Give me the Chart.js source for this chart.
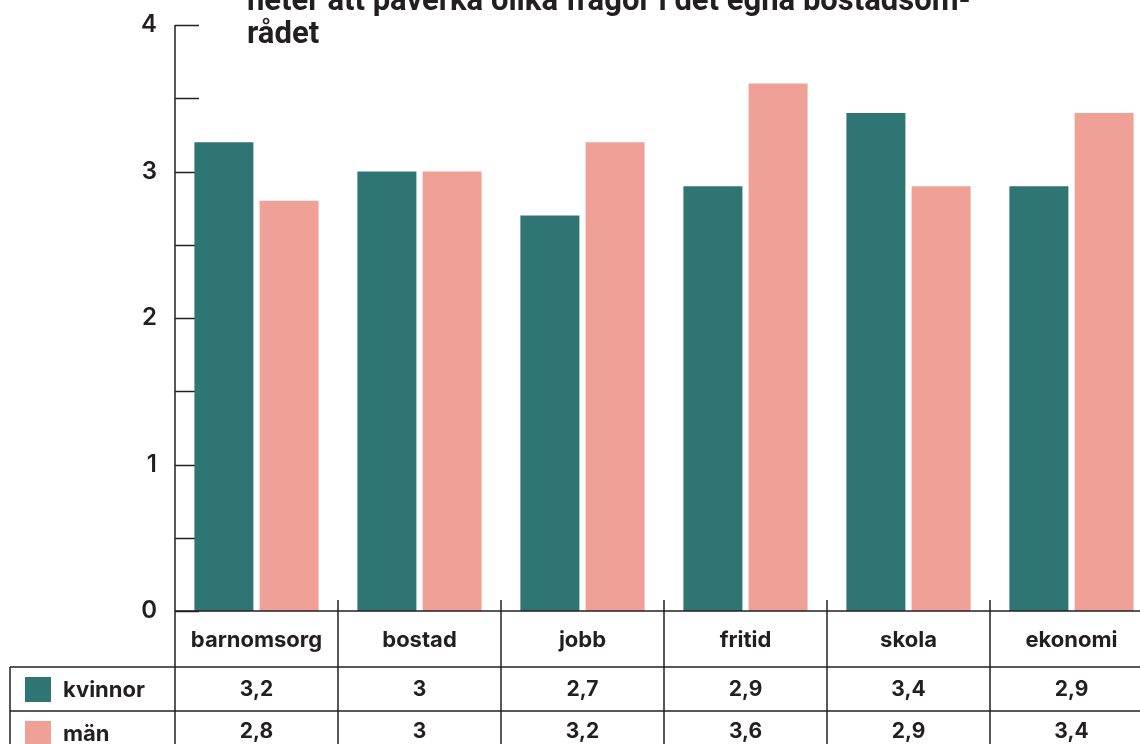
<!DOCTYPE html>
<html>
<head>
<meta charset="utf-8">
<script src="https://cdn.jsdelivr.net/npm/chart.js@4"></script>
<style>
  html, body { margin: 0; padding: 0; background: #fff; overflow: hidden; }
  #wrap { width: 1160px; height: 744px; }
</style>
</head>
<body>
<div id="wrap"><canvas id="chart" width="1160" height="744"></canvas></div>
<script>
const categories = ['barnomsorg', 'bostad', 'jobb', 'fritid', 'skola', 'ekonomi'];
const kvinnor = [3.2, 3, 2.7, 2.9, 3.4, 2.9];
const man = [2.8, 3, 3.2, 3.6, 2.9, 3.4];
const seriesNames = ['kvinnor', 'män'];
const yTicks = [0, 0.5, 1, 1.5, 2, 2.5, 3, 3.5, 4];
const titleLines = ['heter att påverka olika frågor i det egna bostadsom-', 'rådet'];

const COLORS = { teal: '#2F7574', pink: '#F0A197', ink: '#231F20' };
const FONT = "Inter, 'Noto Sans', sans-serif";

const fmt = v => String(v).replace('.', ',');

// table + ticks + title drawn round the plot
const tablePlugin = {
    id: 'dataTable',
    beforeDatasetsDraw(chart) {
        const { ctx, scales: { y }, chartArea } = chart;
        ctx.save();
        ctx.strokeStyle = COLORS.ink;
        ctx.lineWidth = 1.5;
        yTicks.forEach(v => {
            const py = Math.round(y.getPixelForValue(v)) + 0.5;
            ctx.beginPath();
            ctx.moveTo(chartArea.left, py);
            ctx.lineTo(chartArea.left + 24, py);
            ctx.stroke();
        });
        ctx.restore();
    },
    afterDraw(chart) {
        const { ctx, scales: { x }, chartArea } = chart;
        const left = chartArea.left, bottom = chartArea.bottom;
        const catW = (x.right - x.left) / categories.length;
        const rowH = [56, 44, 44];
        const r1 = bottom + rowH[0], r2 = r1 + rowH[1], r3 = r2 + rowH[2];
        const tableLeft = 10;

        ctx.save();
        ctx.strokeStyle = COLORS.ink;
        ctx.lineWidth = 1.5;
        const line = (x1, y1, x2, y2) => { ctx.beginPath(); ctx.moveTo(x1, y1); ctx.lineTo(x2, y2); ctx.stroke(); };

        // axis line + table grid
        line(left, chartArea.top, left, r3);
        line(left, bottom, chart.width, bottom);
        line(tableLeft, r1, chart.width, r1);
        line(tableLeft, r2, chart.width, r2);
        line(tableLeft, r1, tableLeft, r3);
        for (let i = 1; i <= categories.length; i++) {
            const bx = x.getPixelForValue(i) - catW / 2;
            line(bx, bottom - 11, bx, r3);
        }

        ctx.fillStyle = COLORS.ink;
        ctx.textBaseline = 'middle';
        ctx.textAlign = 'center';
        ctx.font = `bold 22px ${FONT}`;
        categories.forEach((c, i) => {
            ctx.fillText(c, x.getPixelForValue(i), bottom + rowH[0] / 2 + 1);
        });
        ctx.font = `bold 21px ${FONT}`;
        categories.forEach((c, i) => {
            const cx = x.getPixelForValue(i);
            ctx.fillText(fmt(kvinnor[i]), cx, r1 + rowH[1] / 2 + 1);
            ctx.fillText(fmt(man[i]), cx, r2 + rowH[2] / 2 - 1);
        });

        // legend keys
        const keyColors = [COLORS.teal, COLORS.pink];
        const rowTops = [r1, r2];
        ctx.textAlign = 'left';
        ctx.font = `bold 22px ${FONT}`;
        seriesNames.forEach((n, i) => {
            ctx.fillStyle = keyColors[i];
            ctx.fillRect(25, rowTops[i] + 10, 26, 25);
            ctx.fillStyle = COLORS.ink;
            ctx.fillText(n, 63, rowTops[i] + 23);
        });

        // title, first line cut by the top edge
        ctx.font = `bold 31px Roboto, sans-serif`;
        ctx.textBaseline = 'alphabetic';
        ctx.fillText(titleLines[0], 247, 10, 730);
        ctx.fillText(titleLines[1], 247, 43);
        ctx.restore();
    }
};

new Chart(document.getElementById('chart'), {
    type: 'bar',
    data: {
        labels: categories,
        datasets: [
            { label: seriesNames[0], data: kvinnor, backgroundColor: COLORS.teal },
            { label: seriesNames[1], data: man, backgroundColor: COLORS.pink }
        ]
    },
    options: {
        responsive: false, animation: false, devicePixelRatio: 1,
        categoryPercentage: 0.8, barPercentage: 0.905,
        layout: { padding: { left: 0, top: 25, right: 7, bottom: 133 } },
        plugins: { legend: { display: false }, tooltip: { enabled: false }, title: { display: false } },
        scales: {
            x: { display: false },
            y: {
                min: 0, max: 4,
                afterFit: s => { s.width = 175; s.paddingTop = 0; s.paddingBottom = 0; },
                grid: { display: false, drawTicks: false },
                border: { display: false },
                ticks: {
                    stepSize: 0.5, padding: 18, color: COLORS.ink,
                    font: { family: FONT, size: 24, weight: 600 },
                    callback: v => Number.isInteger(v) ? v : ''
                }
            }
        }
    },
    plugins: [tablePlugin]
});
</script>
</body>
</html>
